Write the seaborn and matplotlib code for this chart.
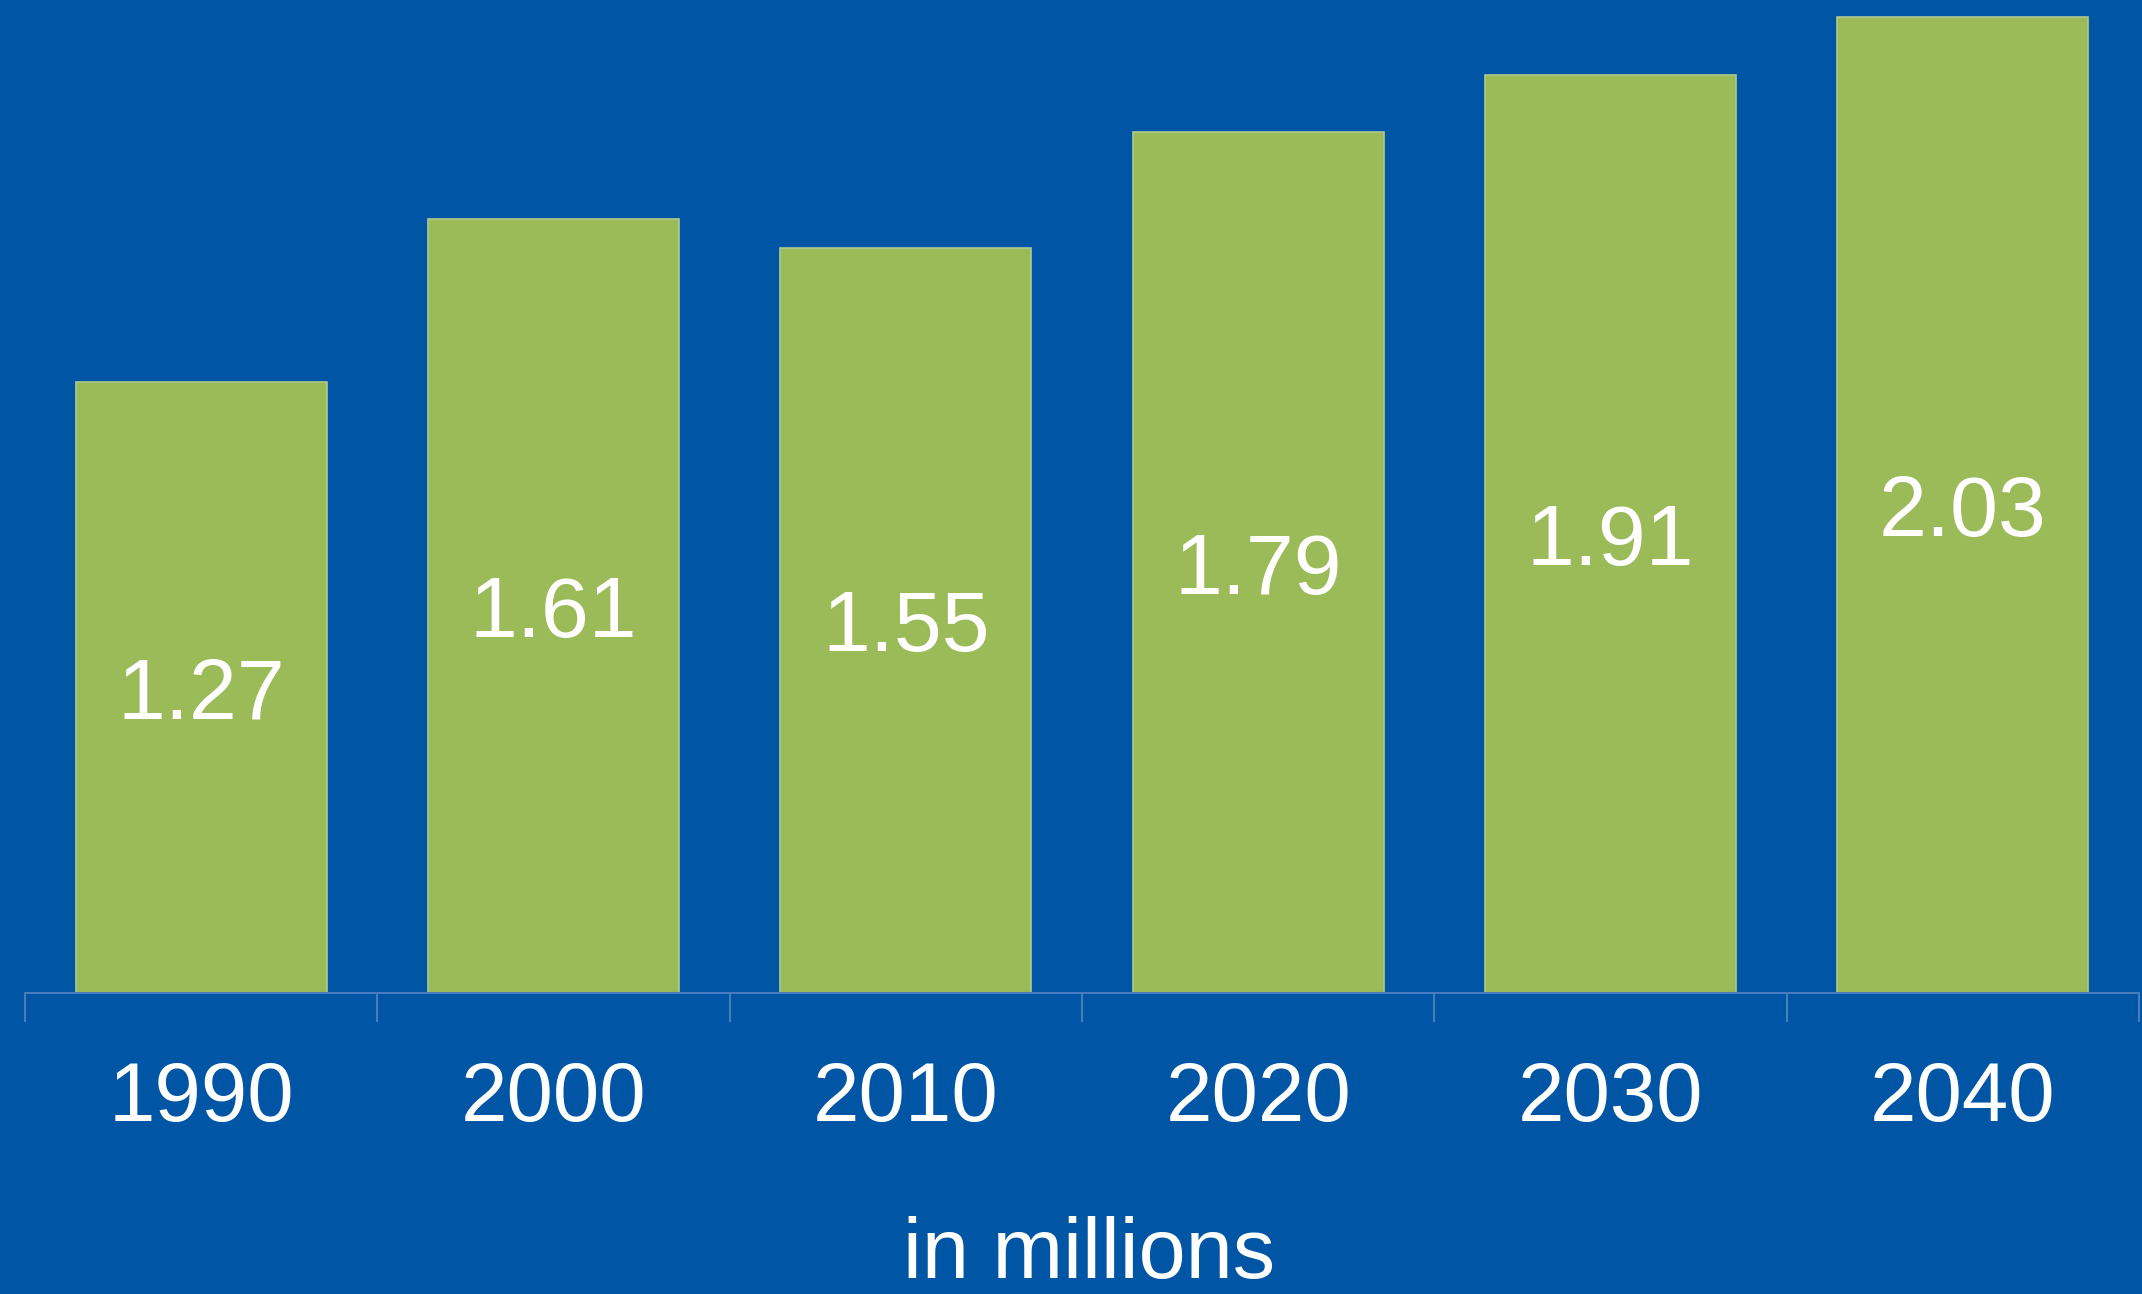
import matplotlib
matplotlib.use("Agg")
import matplotlib.pyplot as plt
import seaborn as sns
import pandas as pd

years = ["1990", "2000", "2010", "2020", "2030", "2040"]
values = [1.27, 1.61, 1.55, 1.79, 1.91, 2.03]

BG = "#0055A5"
GREEN = "#9BBB59"

sns.set_theme(style="white")
plt.rcParams["font.family"] = ["Liberation Sans", "DejaVu Sans"]

df = pd.DataFrame({"year": years, "value": values})

fig = plt.figure(figsize=(21.42, 12.94), dpi=100, facecolor=BG)
ax = fig.add_axes([25 / 2142, 1 - 993 / 1294, 2114 / 2142, 993 / 1294])
ax.set_facecolor(BG)

sns.barplot(data=df, x="year", y="value", color=GREEN, saturation=1,
            width=0.713, edgecolor="#AFC88E", linewidth=1.2, ax=ax)

# value labels centred in each bar
for i, v in enumerate(values):
    ax.text(i, v / 2, f"{v:.2f}", ha="center", va="center_baseline",
            color="white", fontsize=62)

ax.set_xlim(-0.5, 5.5)
ax.set_ylim(0, 2.065)
ax.set_yticks([])
ax.set_ylabel("")
for s in ["top", "right", "left"]:
    ax.spines[s].set_visible(False)
ax.spines["bottom"].set_color("#4A7CBD")
ax.spines["bottom"].set_linewidth(1.5)

ax.set_xticks([i - 0.5 for i in range(len(years) + 1)], minor=True)
ax.tick_params(axis="x", which="minor", length=21, width=1.5, color="#4A7CBD",
               direction="out", bottom=True)
ax.tick_params(axis="x", which="major", length=0, pad=48, labelsize=60,
               labelcolor="white")

ax.set_xlabel("in millions", fontsize=61, color="white")
ax.xaxis.set_label_coords((1089 - 25) / 2114, -(1278 - 993) / 993)
ax.xaxis.label.set_verticalalignment("baseline")

fig.savefig("out.png", dpi=100, facecolor=BG)
